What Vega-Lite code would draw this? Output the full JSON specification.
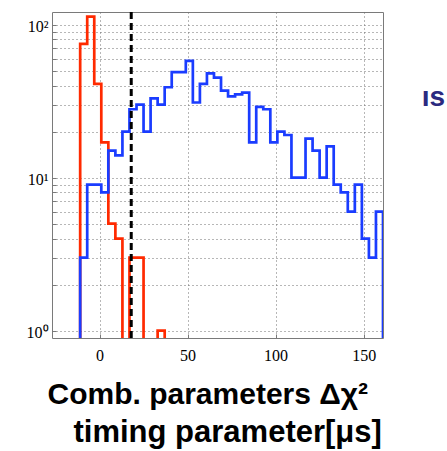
{
  "$schema": "https://vega.github.io/schema/vega-lite/v6.json",
  "width": 331,
  "height": 326,
  "autosize": "none",
  "padding": {"left": 52, "top": 12, "right": 64, "bottom": 113},
  "background": "white",
  "config": {
    "view": {"stroke": "#7a7a7a", "strokeWidth": 1},
    "axis": {
      "domain": false,
      "grid": true,
      "gridColor": "#6e6e6e",
      "gridDash": [1, 3],
      "gridWidth": 1,
      "ticks": true,
      "tickSize": -4,
      "tickColor": "#7a7a7a",
      "labelFont": "Liberation Serif",
      "labelColor": "#000000",
      "titleFont": "Liberation Sans",
      "titleFontSize": 31,
      "titleFontWeight": "bold",
      "titleColor": "#000000",
      "titleAlign": "left",
      "titleBaseline": "alphabetic",
      "titleAngle": 0
    }
  },
  "datasets": {
    "hist": [
      {"set": "A", "edge": -15, "count": 0.5},
      {"set": "A", "edge": -11, "count": 75},
      {"set": "A", "edge": -7, "count": 113},
      {"set": "A", "edge": -3, "count": 41},
      {"set": "A", "edge": 1, "count": 17},
      {"set": "A", "edge": 5, "count": 5},
      {"set": "A", "edge": 9, "count": 4},
      {"set": "A", "edge": 13, "count": 0.5},
      {"set": "A", "edge": 17, "count": 3},
      {"set": "A", "edge": 21, "count": 3},
      {"set": "A", "edge": 25, "count": 0.5},
      {"set": "A", "edge": 29, "count": 0.5},
      {"set": "A", "edge": 33, "count": 1},
      {"set": "A", "edge": 37, "count": 0.5},
      {"set": "A", "edge": 41, "count": 0.5},
      {"set": "B", "edge": -15, "count": 0.5},
      {"set": "B", "edge": -11, "count": 3},
      {"set": "B", "edge": -7, "count": 9},
      {"set": "B", "edge": -3, "count": 9},
      {"set": "B", "edge": 1, "count": 8},
      {"set": "B", "edge": 5, "count": 15},
      {"set": "B", "edge": 9, "count": 14},
      {"set": "B", "edge": 13, "count": 20},
      {"set": "B", "edge": 17, "count": 28},
      {"set": "B", "edge": 21, "count": 30},
      {"set": "B", "edge": 25, "count": 20},
      {"set": "B", "edge": 29, "count": 33},
      {"set": "B", "edge": 33, "count": 30},
      {"set": "B", "edge": 37, "count": 39},
      {"set": "B", "edge": 41, "count": 49},
      {"set": "B", "edge": 45, "count": 49},
      {"set": "B", "edge": 49, "count": 58},
      {"set": "B", "edge": 53, "count": 31},
      {"set": "B", "edge": 57, "count": 41},
      {"set": "B", "edge": 61, "count": 48},
      {"set": "B", "edge": 65, "count": 45},
      {"set": "B", "edge": 69, "count": 37},
      {"set": "B", "edge": 73, "count": 34},
      {"set": "B", "edge": 77, "count": 35},
      {"set": "B", "edge": 81, "count": 36},
      {"set": "B", "edge": 85, "count": 17},
      {"set": "B", "edge": 89, "count": 29},
      {"set": "B", "edge": 93, "count": 28},
      {"set": "B", "edge": 97, "count": 17},
      {"set": "B", "edge": 101, "count": 20},
      {"set": "B", "edge": 105, "count": 19},
      {"set": "B", "edge": 109, "count": 10},
      {"set": "B", "edge": 113, "count": 10},
      {"set": "B", "edge": 117, "count": 18},
      {"set": "B", "edge": 121, "count": 15},
      {"set": "B", "edge": 125, "count": 10},
      {"set": "B", "edge": 129, "count": 16},
      {"set": "B", "edge": 133, "count": 9},
      {"set": "B", "edge": 137, "count": 8},
      {"set": "B", "edge": 141, "count": 6},
      {"set": "B", "edge": 145, "count": 9},
      {"set": "B", "edge": 149, "count": 4},
      {"set": "B", "edge": 153, "count": 3},
      {"set": "B", "edge": 157, "count": 6},
      {"set": "B", "edge": 161, "count": 0.5},
      {"set": "B", "edge": 165, "count": 0.5}
    ],
    "cut": [{"value": 18}],
    "note": [{"x": 183, "y": 29.5, "label": "ıs"}]
  },
  "layer": [
    {
      "data": {"name": "hist"},
      "mark": {"type": "line", "interpolate": "step-after", "strokeWidth": 2.7, "clip": true},
      "encoding": {
        "x": {
          "field": "edge",
          "type": "quantitative",
          "scale": {"domain": [-27, 161], "nice": false, "zero": false},
          "axis": {
            "values": [0, 50, 100, 150],
            "labelFontSize": 16,
            "labelPadding": 13,
            "title": "Comb. parameters Δχ²",
            "titleFontSize": 30,
            "titleX": -5,
            "titleY": 65
          }
        },
        "y": {
          "field": "count",
          "type": "quantitative",
          "scale": {"type": "log", "domain": [0.895, 121], "nice": false},
          "axis": {
            "values": [1, 2, 3, 4, 5, 6, 7, 8, 9, 10, 20, 30, 40, 50, 60, 70, 80, 90, 100],
            "labelExpr": "datum.value == 1 ? '10⁰' : datum.value == 10 ? '10¹' : datum.value == 100 ? '10²' : ''",
            "labelFontSize": 16,
            "labelPadding": 8,
            "labelOffset": 2,
            "title": "timing parameter[μs]",
            "titleX": 21,
            "titleY": 429
          }
        },
        "color": {
          "field": "set",
          "type": "nominal",
          "scale": {"domain": ["A", "B"], "range": ["#ff2a00", "#1a3cff"]},
          "legend": null
        }
      }
    },
    {
      "data": {"name": "cut"},
      "mark": {"type": "rule", "color": "#000000", "strokeWidth": 3, "strokeDash": [7, 4]},
      "encoding": {
        "x": {"field": "value", "type": "quantitative"}
      }
    },
    {
      "data": {"name": "note"},
      "mark": {
        "type": "text",
        "align": "left",
        "baseline": "alphabetic",
        "font": "Liberation Sans",
        "fontSize": 28,
        "fontWeight": "bold",
        "color": "#2b2a80",
        "clip": false
      },
      "encoding": {
        "x": {"field": "x", "type": "quantitative"},
        "y": {"field": "y", "type": "quantitative"},
        "text": {"field": "label"}
      }
    }
  ]
}
